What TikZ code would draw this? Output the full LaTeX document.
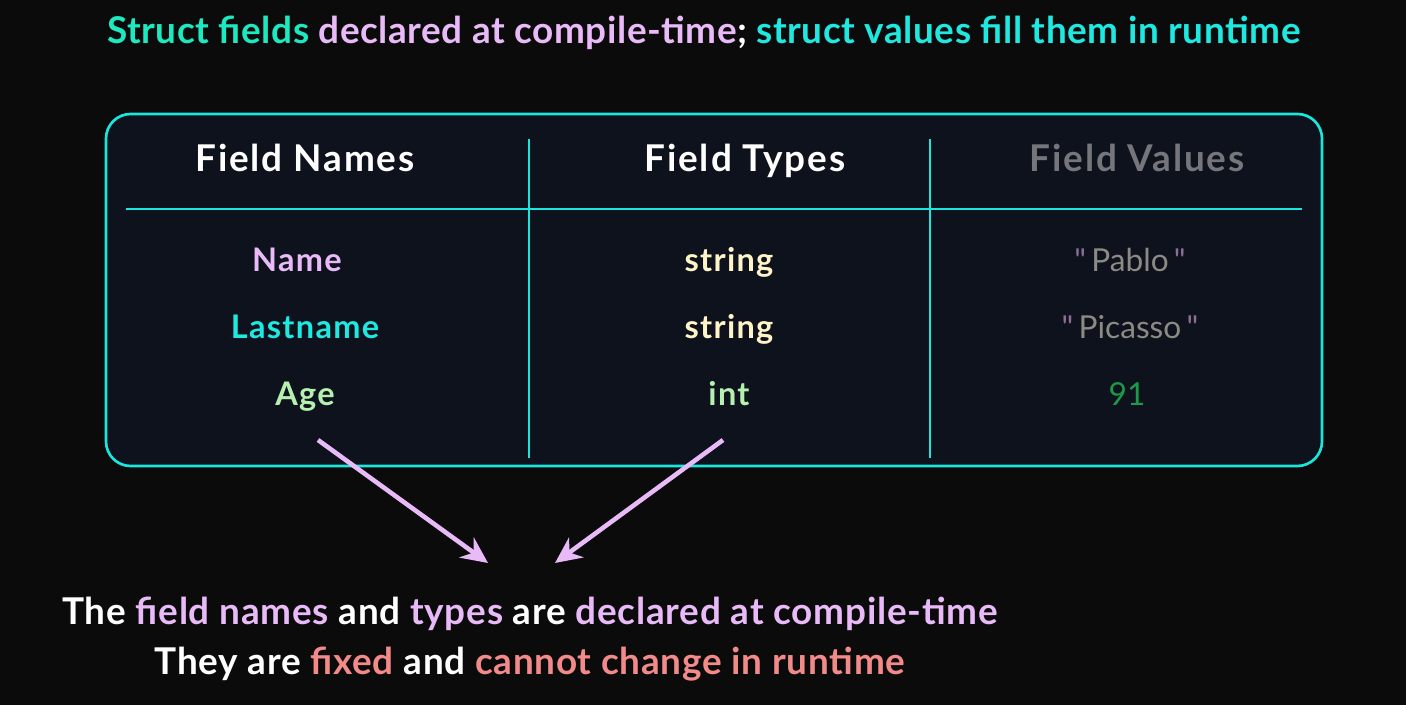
\documentclass[tikz,border=0pt]{standalone}
\usepackage{fontspec}
\setmainfont{Lato}
\newfontfamily\valfont{Lato}
\usetikzlibrary{arrows.meta,positioning}
\definecolor{bgc}{HTML}{0C0B0B}
\definecolor{tablec}{HTML}{0E121C}
\definecolor{cyanb}{HTML}{19E6DC}
\definecolor{tealt}{HTML}{1DE9C0}
\definecolor{lilac}{HTML}{E8BAF8}
\definecolor{cyant}{HTML}{1EE8E0}
\definecolor{mint}{HTML}{B5F0B0}
\definecolor{cream}{HTML}{FFF3C8}
\definecolor{valgray}{HTML}{8C8A84}
\definecolor{quotec}{HTML}{8A7096}
\definecolor{headgray}{HTML}{75767B}
\definecolor{numgreen}{HTML}{1A9A4A}
\definecolor{salmon}{HTML}{F28A8A}

\begin{document}
\begin{tikzpicture}[x=0.02cm,y=-0.02cm,
	every node/.style={anchor=base},
	head/.style={font=\fontsize{21}{24}\selectfont\bfseries\addfontfeatures{LetterSpace=5},text=white},
	cell/.style={font=\fontsize{18.5}{22}\selectfont\bfseries\addfontfeatures{LetterSpace=4}},
	val/.style={font=\fontsize{18}{22}\valfont\selectfont,text=valgray},
	rule/.style={draw=cyanb,line width=1.3pt},
	pointer/.style={-{Stealth[length=15pt,width=14pt]},draw=lilac,line width=2.6pt},
	note/.style={font=\fontsize{21}{25}\selectfont\bfseries\addfontfeatures{LetterSpace=2},text=white}]
	\fill[bgc] (0,0) rectangle (1406,705);
	\useasboundingbox (0,0) rectangle (1406,705);

	% title
	\node[font=\fontsize{21}{25}\selectfont\bfseries\addfontfeatures{LetterSpace=1.5}] (title) at (704,44)
		{\textcolor{tealt}{Struct fields} \textcolor{lilac}{declared at compile-time}\textcolor{white}{;} \textcolor{cyant}{struct values fill them in runtime}};

	% table
	\draw[cyanb,fill=tablec,line width=1.5pt,rounded corners=14pt] (106,114) rectangle (1322,466);
	\draw[rule] (126,209) -- (1302,209);
	\draw[rule] (529,139) -- (529,458);
	\draw[rule] (930,139) -- (930,458);

	\node[head] (hnames) at (305,172) {Field Names};
	\node[head] (htypes) at (745,172) {Field Types};
	\node[head,text=headgray] (hvalues) at (1137,172) {Field Values};

	\node[cell,text=lilac] (name) at (297,272) {Name};
	\node[cell,text=cyant] (lastname) at (305,339) {Lastname};
	\node[cell,text=mint] (age) at (305,406) {Age};

	\node[cell,text=cream] (t1) at (729,272) {string};
	\node[cell,text=cream] (t2) at (729,339) {string};
	\node[cell,text=mint] (t3) at (729,406) {int};

	\node[val] (v1) at (1130,272) {\textcolor{quotec}{"}\,Pablo\,\textcolor{quotec}{"}};
	\node[val] (v2) at (1130,339) {\textcolor{quotec}{"}\,Picasso\,\textcolor{quotec}{"}};
	\node[val,text=numgreen] (v3) at (1127,406) {91};

	% arrows
	\coordinate (agefoot) at (318,440);
	\coordinate (intfoot) at (723,440);
	\coordinate (ltip) at (488,563);
	\coordinate (rtip) at (555,563);
	\draw[pointer] (agefoot) -- (ltip);
	\draw[pointer] (intfoot) -- (rtip);

	% bottom note
	\node[note] (line1) at (530,624) {The \textcolor{lilac}{field names} and \textcolor{lilac}{types} are \textcolor{lilac}{declared at compile-time}};
	\node[note] (line2) at (530,674) {They are \textcolor{salmon}{fixed} and \textcolor{salmon}{cannot change in runtime}};
\end{tikzpicture}
\end{document}
